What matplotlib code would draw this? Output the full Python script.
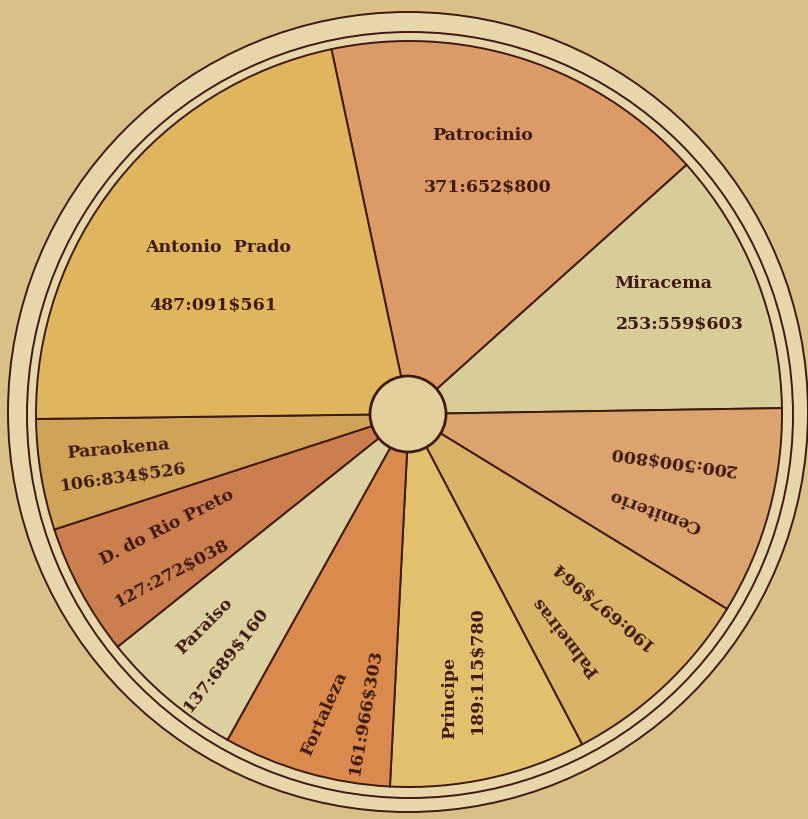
import matplotlib
matplotlib.use("Agg")
import matplotlib.pyplot as plt
from matplotlib.patches import Circle

# ---- data ----
names = ["Patrocinio", "Miracema", "Cemiterio", "Palmeiras", "Principe",
         "Fortaleza", "Paraiso", "D. do Rio Preto", "Paraokena", "Antonio  Prado"]
values = [371652.800, 253559.603, 200500.800, 190697.964, 189115.780,
          161966.303, 137689.160, 127272.038, 106834.526, 487091.561]
value_labels = ["371:652$800", "253:559$603", "200:500$800", "190:697$964", "189:115$780",
                "161:966$303", "137:689$160", "127:272$038", "106:834$526", "487:091$561"]
colors = ["#dc9a66", "#d8cc98", "#dba36e", "#d9b468", "#e2c06e",
          "#d98a4c", "#ddd0a0", "#cc7f4e", "#cfa358", "#dfb65e"]

# ---- layout (image pixel coords, y downward) ----
W, H = 808, 820
CX, CY, R = 409, 415, 373
name_pos = [(483, 136, 0), (663, 283, 0), (655, 511, 160), (566, 637, 128), (450, 698, 90),
            (324, 714, 66), (205, 626, 45), (167, 527, 27), (118, 449, 5), (218, 248, 0)]
val_pos = [(488, 188, 0), (680, 325, 0), (672, 461, 172), (602, 605, 140), (477, 670, 90),
           (366, 712, 80), (226, 660, 52), (172, 573, 28), (123, 478, 8), (213, 305, 0)]

ink = "#3f1a12"
bg = "#d9c089"
band = "#e6d6aa"

fig = plt.figure(figsize=(W / 100, H / 100), dpi=100, facecolor=bg)
ax = fig.add_axes([0, 0, 1, 1])


def Y(y):
    return H - y


# outer rings
ax.add_patch(Circle((408, Y(413)), 400, facecolor=band, edgecolor=ink, lw=1.4, zorder=1))
ax.add_patch(Circle((410, Y(416)), 383, facecolor=band, edgecolor=ink, lw=1.4, zorder=1))

ax.pie(values, colors=colors, startangle=102, counterclock=False,
       center=(CX, Y(CY)), radius=R, frame=True,
       wedgeprops=dict(edgecolor=ink, linewidth=1.4))
ax.set_xlim(0, W)
ax.set_ylim(0, H)
ax.set_aspect("equal")
ax.axis("off")

# hub
ax.add_patch(Circle((408, Y(415)), 38, facecolor="#e3cf9c", edgecolor=ink, lw=2.0, zorder=5))

font = dict(family="DejaVu Serif", weight="bold", color=ink, fontsize=12.5,
            ha="center", va="center", rotation_mode="anchor")
for n, (x, y, r) in zip(names, name_pos):
    ax.text(x, Y(y), n, rotation=r, zorder=6, **font)
for v, (x, y, r) in zip(value_labels, val_pos):
    ax.text(x, Y(y), v, rotation=r, zorder=6, **font)

fig.savefig("out.png", dpi=100, facecolor=bg)
